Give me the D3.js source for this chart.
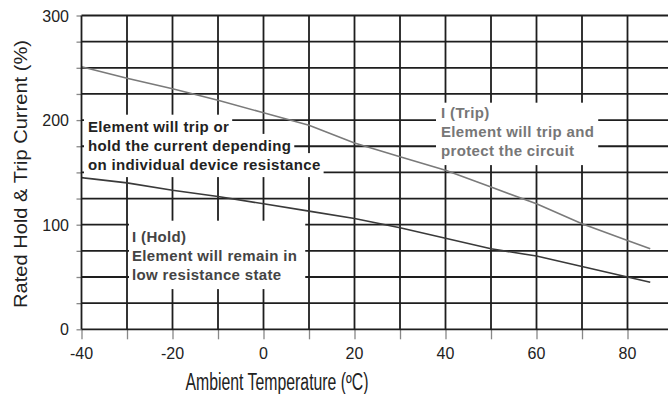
<!DOCTYPE html>
<html>
<head>
<meta charset="utf-8">
<script src="https://cdn.jsdelivr.net/npm/d3@7"></script>
<style>
  body { margin: 0; background: #fff; }
  svg { display: block; font-family: "Liberation Sans", Arial, Helvetica, sans-serif; }
</style>
</head>
<body>
<div id="chart"></div>
<script>
  var width = 668;
  var height = 394;

  // data
  var temps      = [-40, -30, -20, -10, 0, 10, 20, 30, 40, 50, 60, 70, 80, 85];
  var tripValues = [251, 240, 230, 219, 207, 195, 178, 165, 152, 136, 120, 101, 85, 77];
  var holdValues = [145, 140, 133, 127, 120, 113, 106, 97, 87, 77, 70, 60, 50, 45];
  var xTickLabels = [-40, -20, 0, 20, 40, 60, 80];
  var yTickLabels = [0, 100, 200, 300];
  var xGrid = [-30, -20, -10, 0, 10, 20, 30, 40, 50, 60, 70, 80, 90];
  var yGrid = [25, 50, 75, 100, 125, 150, 175, 200, 225, 250, 275, 300];

  var noteBoth = ["Element will trip or", "hold the current depending", "on individual device resistance"];
  var noteTrip = ["I (Trip)", "Element will trip and", "protect the circuit"];
  var noteHold = ["I (Hold)", "Element will remain in", "low resistance state"];

  var x = d3.scaleLinear().domain([-40, 90]).range([81.5, 673]);
  var y = d3.scaleLinear().domain([0, 300]).range([329.3, 15.5]);

  var svg = d3.select("#chart").append("svg")
      .attr("width", width)
      .attr("height", height);

  // grid
  var grid = svg.append("g").attr("stroke", "#1e1e1e").attr("stroke-width", 1.8);
  grid.selectAll("line.v").data(xGrid).enter().append("line")
      .attr("class", "v")
      .attr("x1", function(d) { return x(d); })
      .attr("x2", function(d) { return x(d); })
      .attr("y1", y(300)).attr("y2", y(0));
  grid.selectAll("line.h").data(yGrid).enter().append("line")
      .attr("class", "h")
      .attr("x1", x(-40)).attr("x2", width + 5)
      .attr("y1", function(d) { return y(d); })
      .attr("y2", function(d) { return y(d); });

  // curves
  var line = d3.line()
      .x(function(d) { return x(d[0]); })
      .y(function(d) { return y(d[1]); });

  svg.append("path")
      .datum(d3.zip(temps, tripValues))
      .attr("fill", "none")
      .attr("stroke", "#7a7a7a")
      .attr("stroke-width", 1.6)
      .attr("d", line);
  svg.append("path")
      .datum(d3.zip(temps, holdValues))
      .attr("fill", "none")
      .attr("stroke", "#3a3a3a")
      .attr("stroke-width", 1.6)
      .attr("d", line);

  // axes
  var xAxis = svg.append("g")
      .attr("transform", "translate(0," + y(0) + ")")
      .call(d3.axisBottom(x).tickValues(d3.range(-40, 90, 10)).tickSize(10).tickFormat(""));
  xAxis.select(".domain").remove();
  xAxis.selectAll(".tick line").attr("stroke", "#888").attr("stroke-width", 1.3);

  var yAxis = svg.append("g")
      .attr("transform", "translate(" + x(-40) + ",0)")
      .call(d3.axisLeft(y).tickValues(d3.range(0, 301, 25)).tickSize(5).tickFormat(""));
  yAxis.select(".domain").remove();
  yAxis.selectAll(".tick line").attr("stroke", "#888").attr("stroke-width", 1.3);

  svg.append("line")
      .attr("x1", x(-40)).attr("x2", x(-40))
      .attr("y1", y(300)).attr("y2", y(0))
      .attr("stroke", "#1e1e1e").attr("stroke-width", 1.8);
  svg.append("line")
      .attr("x1", x(-40)).attr("x2", width)
      .attr("y1", y(0)).attr("y2", y(0))
      .attr("stroke", "#1e1e1e").attr("stroke-width", 1.8);

  svg.selectAll("text.xt").data(xTickLabels).enter().append("text")
      .attr("class", "xt")
      .attr("x", function(d) { return x(d); })
      .attr("y", 359)
      .attr("text-anchor", "middle")
      .attr("font-size", 16)
      .attr("fill", "#222")
      .text(function(d) { return d; });

  svg.selectAll("text.yt").data(yTickLabels).enter().append("text")
      .attr("class", "yt")
      .attr("x", 69)
      .attr("y", function(d) { return y(d) + 6; })
      .attr("text-anchor", "end")
      .attr("font-size", 16)
      .attr("fill", "#222")
      .text(function(d) { return d; });

  svg.append("text")
      .attr("x", 277).attr("y", 390)
      .attr("text-anchor", "middle")
      .attr("font-size", 23)
      .attr("fill", "#222")
      .attr("textLength", 183).attr("lengthAdjust", "spacingAndGlyphs")
      .text("Ambient Temperature (ºC)");

  svg.append("text")
      .attr("transform", "translate(27,174) rotate(-90)")
      .attr("text-anchor", "middle")
      .attr("font-size", 19)
      .attr("fill", "#222")
      .attr("textLength", 268).attr("lengthAdjust", "spacingAndGlyphs")
      .text("Rated Hold & Trip Current  (%)");

  // notes: white boxes behind the text
  function note(lines, x0, y0, color, pad, oneBox) {
    var g = svg.append("g");
    var texts = g.selectAll("text").data(lines).enter().append("text")
        .attr("x", x0)
        .attr("y", function(d, i) { return y0 + i * 19.2; })
        .attr("font-size", 15)
        .attr("letter-spacing", 0.35)
        .attr("font-weight", "bold")
        .attr("fill", color)
        .text(function(d) { return d; });
    var boxes = [];
    texts.each(function() { boxes.push(this.getBBox()); });
    if (oneBox) {
      var x1 = d3.min(boxes, function(b) { return b.x; }) - pad[0];
      var x2 = d3.max(boxes, function(b) { return b.x + b.width; }) + pad[1];
      var y1 = y0 - 15 - pad[2];
      var y2 = y0 + (lines.length - 1) * 19.2 + 5 + pad[3];
      g.insert("rect", "text")
          .attr("x", x1).attr("y", y1)
          .attr("width", x2 - x1).attr("height", y2 - y1)
          .attr("fill", "#fff");
    } else {
      boxes.forEach(function(b, i) {
        g.insert("rect", "text")
            .attr("x", b.x - pad[0]).attr("y", y0 + i * 19.2 - 17)
            .attr("width", b.width + pad[0] + pad[1]).attr("height", 24)
            .attr("fill", "#fff");
      });
    }
  }

  note(noteBoth, 88, 131.7, "#222", [4, 3], false);
  note(noteTrip, 441, 117.7, "#777", [5, 4, 0, 4], true);
  note(noteHold, 132, 241.7, "#444", [3, 8, 6, 4], true);
</script>
</body>
</html>
